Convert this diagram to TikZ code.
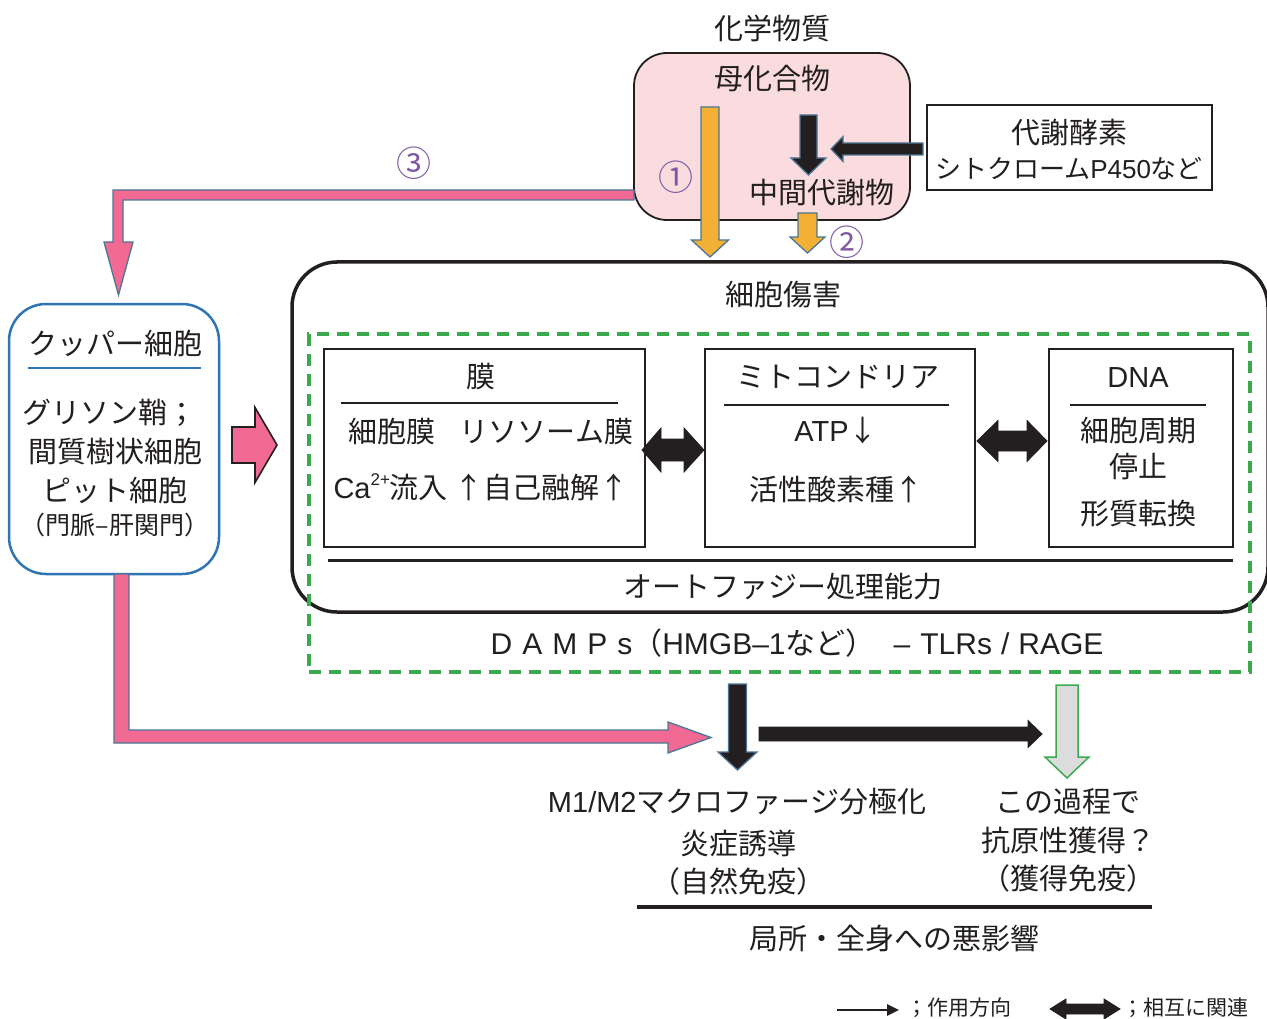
\documentclass[tikz,border=0pt]{standalone}
\usepackage{fontspec}
\setmainfont{Noto Sans CJK JP}
\newfontfamily\latinf{Liberation Sans}
\usetikzlibrary{arrows.meta}
\definecolor{ink}{HTML}{231F20}
\definecolor{pinkbg}{HTML}{FADCDF}
\definecolor{arrpink}{HTML}{F06A94}
\definecolor{arredge}{HTML}{4D7696}
\definecolor{arrorange}{HTML}{F2B134}
\definecolor{kblue}{HTML}{2F75B5}
\definecolor{dgreen}{HTML}{3BAA4F}
\definecolor{numpurple}{HTML}{7E57A5}
\definecolor{lgray}{HTML}{DCDCDC}
\newcommand\blkdown[7]{%
  \path[#1] ({#2-#5},#3) -- ({#2+#5},#3) -- ({#2+#5},#7) -- ({#2+#6},#7) -- (#2,#4) -- ({#2-#6},#7) -- ({#2-#5},#7) -- cycle;}
\newcommand\blkhoriz[7]{%
  \path[#1] (#3,{#2-#5}) -- (#7,{#2-#5}) -- (#7,{#2-#6}) -- (#4,#2) -- (#7,{#2+#6}) -- (#7,{#2+#5}) -- (#3,{#2+#5}) -- cycle;}
\newcommand\blkdouble[8]{%
  \path[#1] (#3,#2) -- (#7,{#2-#6}) -- (#7,{#2-#5}) -- (#8,{#2-#5}) -- (#8,{#2-#6}) -- (#4,#2) -- (#8,{#2+#6}) -- (#8,{#2+#5}) -- (#7,{#2+#5}) -- (#7,{#2+#6}) -- cycle;}
\newcommand\lt[1]{{\latinf #1}}
\begin{document}
\begin{tikzpicture}[x=1pt,y=-1pt,
  every node/.style={text=ink, inner sep=0pt},
  lbl/.style={font=\fontsize{29}{34}\selectfont},
  smalllbl/.style={font=\fontsize{25}{30}\selectfont},
  num/.style={font=\fontsize{35}{38}\selectfont, text=numpurple},
  legendlbl/.style={font=\fontsize{21}{24}\selectfont},
  boxed/.style={draw=ink, line width=2.5pt},
  pinkarr/.style={fill=arrpink, draw=arredge, line width=1.3pt, line join=miter},
  pinkblk/.style={fill=arrpink, draw=ink, line width=1.6pt, line join=miter},
  orarr/.style={fill=arrorange, draw=arredge, line width=1.3pt, line join=miter},
  darkarr/.style={fill=ink, draw=arredge, line width=1.3pt, line join=miter},
  plainarr/.style={fill=ink, draw=ink, line width=0.8pt, line join=miter},
  grayarr/.style={fill=lgray, draw=dgreen, line width=1.5pt, line join=miter},
  rule/.style={draw=ink, line width=1.6pt}
]
\useasboundingbox (0,0) rectangle (1267,1019);
\clip (0,0) rectangle (1267,1019);
\fill[white] (0,0) rectangle (1267,1019);

% ---- top: chemical substance ----
\node[lbl] (chemtitle) at (772,28) {化学物質};
\node[draw=ink, line width=1.8pt, fill=pinkbg, rounded corners=33pt,
      minimum width=276pt, minimum height=167pt] (parent) at (772,136.5) {};
\node[lbl] (parentlbl) at (772,78) {母化合物};
\node[lbl] (metab) at (822,193) {中間代謝物};
\node[draw=ink, line width=1.2pt, minimum width=285pt, minimum height=85pt] (enzyme) at (1069.5,147.5) {};
\node[lbl] (enzlbl1) at (1069,133) {代謝酵素};
\node[font=\fontsize{26}{30}\selectfont] (enzlbl2) at (1069,169) {シトクローム\lt{P450}など};

% arrows at top
\blkdown{orarr}{710}{107}{257}{9}{18.5}{240}
\blkdown{darkarr}{808.5}{115}{175}{8.5}{17.5}{158}
\blkhoriz{darkarr}{149}{923}{831}{6}{12.5}{843}
\blkdown{orarr}{807.5}{213}{253}{9.5}{17.5}{237}
\node[num] (n1) at (676,177) {①};
\node[num] (n2) at (847,242) {②};
\node[num] (n3) at (414,163) {③};

% pink arrow 3 from parent box to Kupffer
\path[pinkarr] (634,190) -- (113,190) -- (113,242) -- (104,242) -- (118.5,295) -- (133,242) -- (123,242) -- (123,200) -- (634,200) -- cycle;

% ---- Kupffer box ----
\node[draw=kblue, line width=2.5pt, rounded corners=37pt, minimum width=210pt, minimum height=270pt] (kupffer) at (114,439) {};
\node[lbl] (k1) at (115,343) {クッパー細胞};
\draw[kblue, line width=2pt] (28,368) -- (201,368);
\node[lbl] (k2) at (110,413) {グリソン鞘；};
\node[lbl] (k3) at (115,452) {間質樹状細胞};
\node[lbl] (k4) at (115,490) {ピット細胞};
\node[smalllbl] (k5) at (115,525) {（門脈–肝関門）};

% pink block arrow right
\blkhoriz{pinkblk}{445}{232}{277}{18}{37.5}{255}

% pink arrow from Kupffer to bottom
\path[pinkarr] (114,574) -- (114,743) -- (668,743) -- (668,753) -- (711,737.5) -- (668,722) -- (668,730) -- (129,730) -- (129,574) -- cycle;

% ---- cell injury ----
\node[draw=ink, line width=3.5pt, rounded corners=45pt, minimum width=976pt, minimum height=350pt] (injury) at (780,437) {};
\node[lbl] (injlbl) at (783,295) {細胞傷害};
\node[draw=dgreen, line width=3.5pt, dash pattern=on 12pt off 8pt, minimum width=941pt, minimum height=338pt] (damps) at (779.5,503) {};

\node[boxed, minimum width=321pt, minimum height=198pt] (memb) at (484.5,448) {};
\node[lbl] (membt) at (481,377) {膜};
\draw[rule] (341,403) -- (618,403);
\node[lbl] (memb1) at (491,431) {細胞膜\hspace{24pt}リソソーム膜};
\node[lbl] (memb2) at (481,487) {\lt{Ca}\raisebox{0.42em}{\fontsize{17}{20}\selectfont\latinf 2+}流入 ↑自己融解↑};

\node[boxed, minimum width=270pt, minimum height=198pt] (mito) at (840,448) {};
\node[lbl] (mitot) at (838,377) {ミトコンドリア};
\draw[rule] (724,405) -- (949,405);
\node[lbl] (mito1) at (836,431) {\lt{ATP}↓};
\node[lbl] (mito2) at (836,489) {活性酸素種↑};

\node[boxed, minimum width=184pt, minimum height=198pt] (dna) at (1141,448) {};
\node[lbl] (dnat) at (1138,378) {\lt{DNA}};
\draw[rule] (1070,405) -- (1206,405);
\node[lbl] (dna1) at (1138,431) {細胞周期};
\node[lbl] (dna2) at (1138,467) {停止};
\node[lbl] (dna3) at (1138,514) {形質転換};

\blkdouble{plainarr}{450}{642}{704}{11}{22}{661}{684}
\blkdouble{plainarr}{441}{977}{1047}{10}{20.5}{998}{1027}

\draw[ink, line width=3pt] (328,560) -- (1233,560);
\node[lbl] (auto) at (783,587) {オートファジー処理能力};
\node[font=\fontsize{30}{34}\selectfont] (dampslbl) at (797,643) {\lt{D\hspace{10pt}A\hspace{10pt}M\hspace{10pt}P\hspace{10pt}s}（\lt{HMGB–1}など）\hspace{18pt}\lt{–\hspace{10pt}TLRs\hspace{9pt}/\hspace{9pt}RAGE}};

% ---- bottom ----
\blkdown{darkarr}{737.5}{684}{770}{9}{19.5}{752}
\blkhoriz{plainarr}{734}{759}{1042}{7}{13.5}{1028}
\blkdown{grayarr}{1067}{685}{778}{11}{22}{757}

\node[lbl] (m1) at (737,802) {\lt{M1/M2}マクロファージ分極化};
\node[lbl] (m2) at (738,843) {炎症誘導};
\node[lbl] (m3) at (738,881) {（自然免疫）};
\node[lbl] (a1) at (1068,802) {この過程で};
\node[lbl] (a2) at (1068,840) {抗原性獲得？};
\node[lbl] (a3) at (1068,878) {（獲得免疫）};
\draw[ink, line width=3.5pt] (637,907) -- (1152,907);
\node[lbl] (bad) at (894,938) {局所・全身への悪影響};

% ---- legend ----
\coordinate (lgA) at (837,1010);
\coordinate (lgB) at (899,1010);
\draw[ink, line width=2.5pt, -{Triangle[length=12pt,width=11pt]}] (lgA) -- (lgB);
\node[legendlbl, anchor=west] (lg1) at (906,1008) {；作用方向};
\blkdouble{plainarr}{1009}{1050}{1120}{5}{10}{1066}{1104}
\node[legendlbl, anchor=west] (lg2) at (1122,1008) {；相互に関連};
\end{tikzpicture}
\end{document}
